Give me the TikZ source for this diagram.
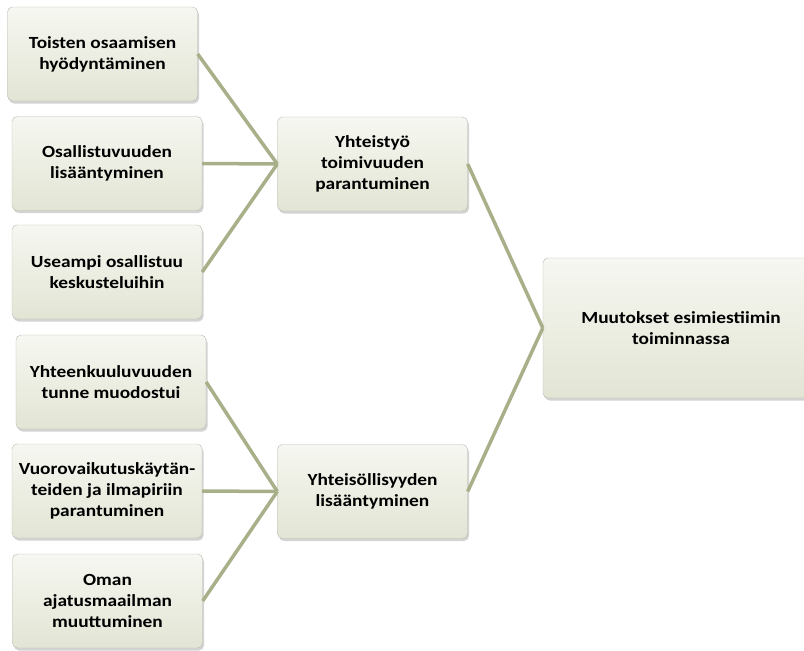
\documentclass[tikz,border=0pt]{standalone}
\usepackage{fontspec}
\setmainfont{Carlito}[FakeStretch=1.14]
\usetikzlibrary{shadows}
\definecolor{spojnice}{RGB}{168,176,138}
\definecolor{okraj}{RGB}{185,187,178}
\definecolor{horni}{RGB}{246,247,241}
\definecolor{dolni}{RGB}{226,229,212}

\begin{document}
\begin{tikzpicture}[x=1pt, y=-1pt,
        box/.style={draw=okraj, rounded corners=5pt, top color=horni, bottom color=dolni,
            drop shadow={opacity=0.35, shadow xshift=1.5pt, shadow yshift=-2.5pt},
            minimum width=190pt, minimum height=94pt, inner sep=1pt, align=center,
            font=\fontsize{17}{21}\selectfont\bfseries},
        spoj/.style={draw=spojnice, line width=3.5pt}]
        \clip (0,0) rectangle (804,651);

        % levé boxy
        \node[box] (osaam) at (102.5,54) {Toisten osaamisen\\hyödyntäminen};
        \node[box] (osall) at (107,163.5) {Osallistuvuuden\\lisääntyminen};
        \node[box] (keskust) at (107,272) {Useampi osallistuu\\keskusteluihin};
        \node[box] (yhteenk) at (111,382) {Yhteenkuuluvuuden\\tunne muodostui};
        \node[box] (vuorov) at (107,491) {Vuorovaikutuskäytän-\\teiden ja ilmapiriin\\parantuminen};
        \node[box] (ajatus) at (107.5,601) {Oman\\ajatusmaailman\\muuttuminen};

        % prostřední boxy
        \node[box] (yhteist) at (372.5,164) {Yhteistyö\\toimivuuden\\parantuminen};
        \node[box] (yhteis) at (372.5,491.5) {Yhteisöllisyyden\\lisääntyminen};

        % pravý box
        \node[box, minimum width=276pt, minimum height=140pt] (muutokset) at (681,328)
            {Muutokset esimiestiimin\\toiminnassa};

        % spojnice
        \draw[spoj] (osaam.east) -- (yhteist.west);
        \draw[spoj] (osall.east) -- (yhteist.west);
        \draw[spoj] (keskust.east) -- (yhteist.west);
        \draw[spoj] (yhteenk.east) -- (yhteis.west);
        \draw[spoj] (vuorov.east) -- (yhteis.west);
        \draw[spoj] (ajatus.east) -- (yhteis.west);
        \draw[spoj] (yhteist.east) -- (muutokset.west);
        \draw[spoj] (yhteis.east) -- (muutokset.west);
    \end{tikzpicture}
\end{document}
